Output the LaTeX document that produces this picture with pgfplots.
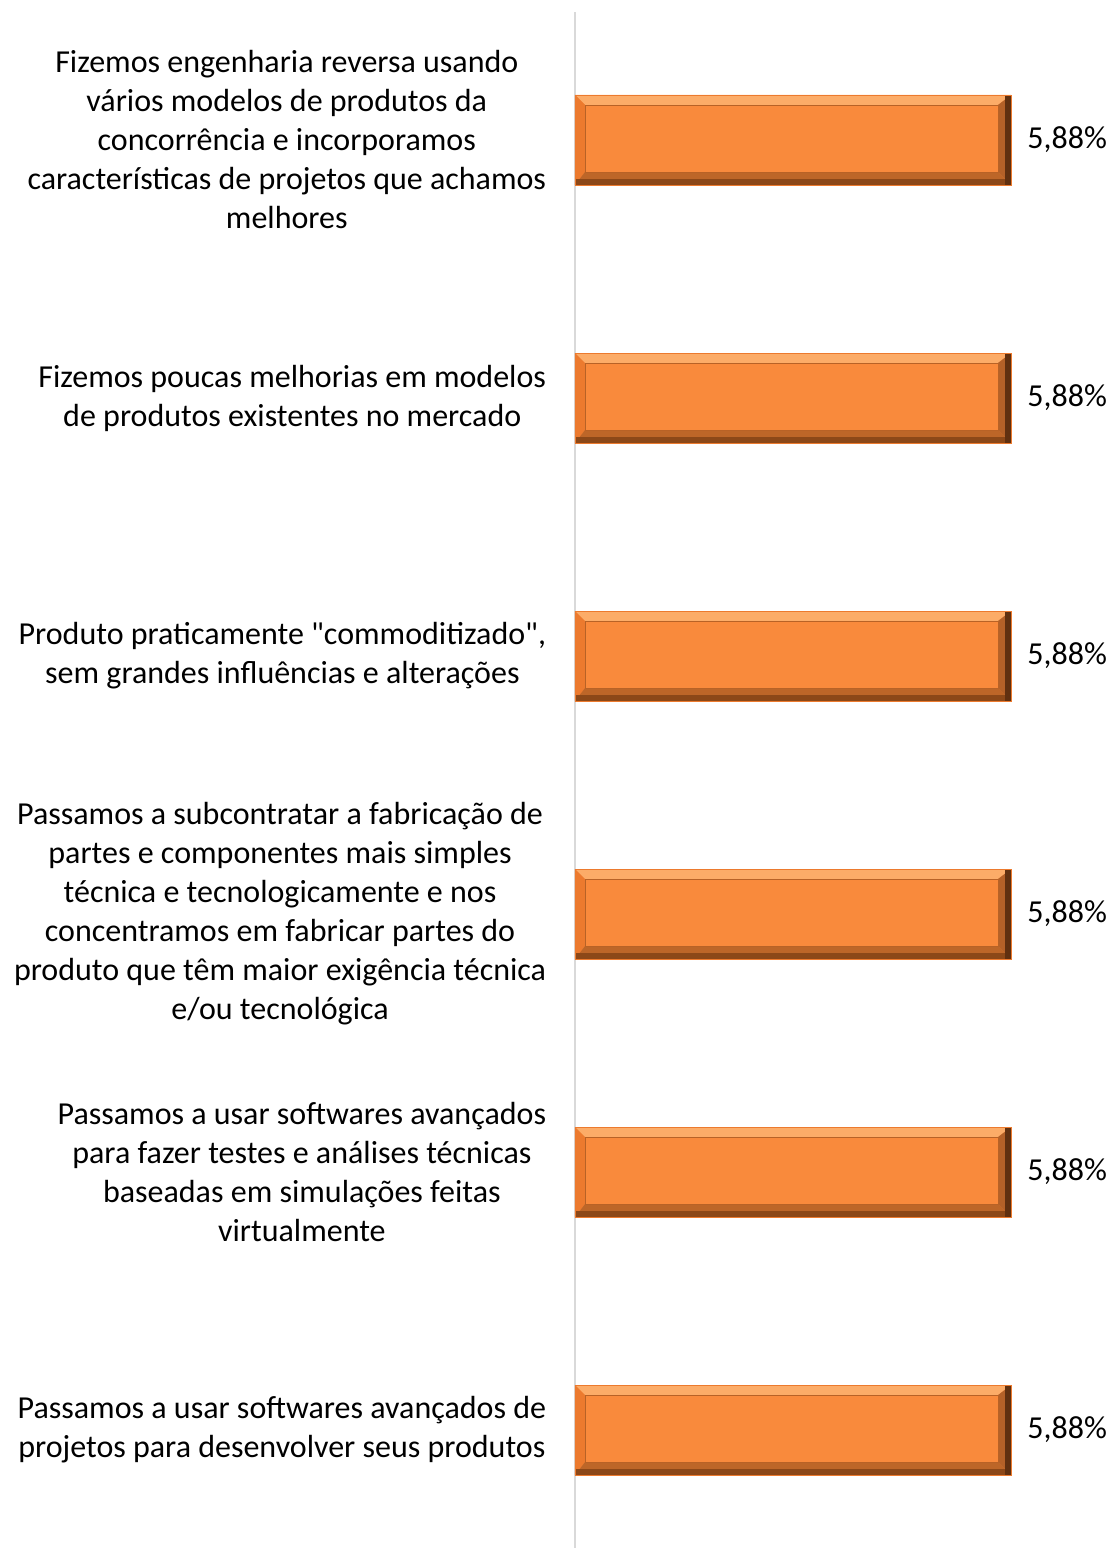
\documentclass[border=0pt]{standalone}
\usepackage{fontspec}
\setmainfont{Carlito}
\usepackage{pgfplots}
\pgfplotsset{compat=1.18}

\definecolor{barmain}{RGB}{249,138,60}
\definecolor{barlight}{RGB}{252,172,104}
\definecolor{barleft}{RGB}{236,122,46}
\definecolor{bardark}{RGB}{140,72,24}
\definecolor{barright}{RGB}{96,48,16}
\definecolor{axisgray}{RGB}{217,217,217}

% one filled quadrilateral, basic layer (no tikz options inherited)
\newcommand\bevquad[9]{%
  \pgfpathmoveto{\pgfqpoint{#2}{#3}}%
  \pgfpathlineto{\pgfqpoint{#4}{#5}}%
  \pgfpathlineto{\pgfqpoint{#6}{#7}}%
  \pgfpathlineto{\pgfqpoint{#8}{#9}}%
  \pgfpathclose
  \pgfsetfillcolor{#1}\pgfusepath{fill}}
\newdimen\bevd
\newcommand\bevset[3]{\bevd=#2\advance\bevd by #3\relax\edef#1{\the\bevd}}

% bevel look of the bars (decoration only)
\tikzset{bevel/.style={
  path picture={%
    \pgfpointanchor{path picture bounding box}{south west}\pgfgetlastxy{\bxa}{\bya}%
    \pgfpointanchor{path picture bounding box}{north east}\pgfgetlastxy{\bxb}{\byb}%
    \bevset\ixa\bxa{5pt}\bevset\iya\bya{6.5pt}%
    \bevset\ixb\bxb{-6.5pt}\bevset\iyb\byb{-5pt}%
    \bevset\mya\bya{3pt}\bevset\mxb\bxb{-3pt}%
    \bevquad{barlight}{\bxa}{\byb}{\bxb}{\byb}{\ixb}{\iyb}{\ixa}{\iyb}%
    \bevquad{barleft}{\bxa}{\bya}{\bxa}{\byb}{\ixa}{\iyb}{\ixa}{\iya}%
    \bevquad{bardark!55!barmain}{\bxa}{\bya}{\bxb}{\bya}{\ixb}{\iya}{\ixa}{\iya}%
    \bevquad{bardark}{\bxa}{\bya}{\bxb}{\bya}{\bxb}{\mya}{\bxa}{\mya}%
    \bevquad{barright!45!barmain}{\bxb}{\bya}{\bxb}{\byb}{\ixb}{\iyb}{\ixb}{\iya}%
    \bevquad{barright}{\bxb}{\bya}{\bxb}{\byb}{\mxb}{\byb}{\mxb}{\bya}%
    \pgfpathrectanglecorners{\pgfqpoint{\ixa}{\iya}}{\pgfqpoint{\ixb}{\iyb}}%
    \pgfsetfillcolor{barmain}\pgfsetstrokecolor{bardark!60!barmain}%
    \pgfsetlinewidth{0.4pt}\pgfusepath{fill,stroke}%
  }}}

\begin{document}
\begin{tikzpicture}
\useasboundingbox (0,0) rectangle (555.5pt,774pt);
\begin{axis}[
  at={(287.5pt,0pt)}, anchor=south west,
  scale only axis, width=218pt, height=768pt,
  clip=false,
  xmin=0, xmax=5.88,
  y dir=reverse, ymin=-0.496, ymax=5.457,
  axis x line=none, axis y line=left,
  y axis line style={-, draw=axisgray, line width=1pt},
  ytick={0,1,2,3,4,5}, ytick style={draw=none},
  yticklabels={
    {Fizemos engenharia reversa usando\\vários modelos de produtos da\\concorrência e incorporamos\\características de projetos que achamos\\melhores},
    {Fizemos poucas melhorias em modelos\\de produtos existentes no mercado},
    {Produto praticamente \textquotedbl commoditizado\textquotedbl,\\sem grandes influências e alterações},
    {Passamos a subcontratar a fabricação de\\partes e componentes mais simples\\técnica e tecnologicamente e nos\\concentramos em fabricar partes do\\produto que têm maior exigência técnica\\e/ou tecnológica},
    {Passamos a usar softwares avançados\\para fazer testes e análises técnicas\\baseadas em simulações feitas\\virtualmente},
    {Passamos a usar softwares avançados de\\projetos para desenvolver seus produtos}},
  yticklabel style={align=center, anchor=east, inner sep=0pt, xshift=-10pt,
    font=\fontsize{16pt}{19.5pt}\selectfont},
  xbar, bar width=45pt, bar shift=0pt,
  nodes near coords style={anchor=west, inner sep=0pt, xshift=8pt,
    font=\fontsize{16pt}{19.5pt}\selectfont},
]
% one bar per plot so that each bar gets its own bevel
\addplot[fill=barmain, draw=barleft, line width=0.4pt, bevel] coordinates {(5.88,0)};
\addplot[fill=barmain, draw=barleft, line width=0.4pt, bevel] coordinates {(5.88,1)};
\addplot[fill=barmain, draw=barleft, line width=0.4pt, bevel] coordinates {(5.88,2)};
\addplot[fill=barmain, draw=barleft, line width=0.4pt, bevel] coordinates {(5.88,3)};
\addplot[fill=barmain, draw=barleft, line width=0.4pt, bevel] coordinates {(5.88,4)};
\addplot[fill=barmain, draw=barleft, line width=0.4pt, bevel] coordinates {(5.88,5)};
% value labels (same data, no bar drawn)
\addplot[draw=none, fill=none,
  nodes near coords={\pgfmathprintnumber[fixed,fixed zerofill,precision=2,use comma,assume math mode=true]{\pgfplotspointmeta}\%}]
coordinates {(5.88,0) (5.88,1) (5.88,2) (5.88,3) (5.88,4) (5.88,5)};
\end{axis}
\end{tikzpicture}
\end{document}
